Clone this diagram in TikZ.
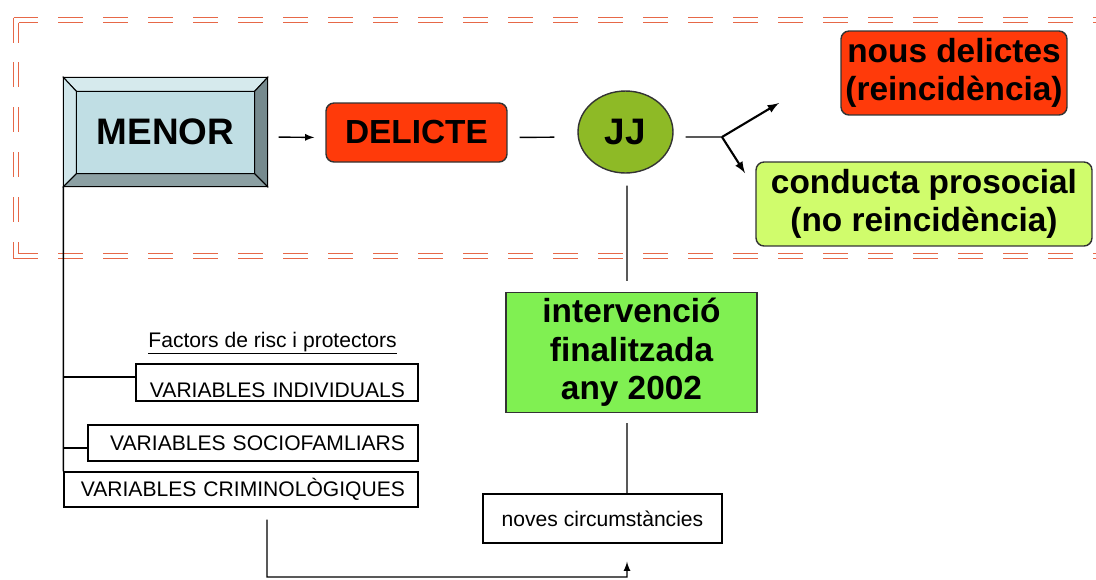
\documentclass[tikz,border=0pt]{standalone}
\usepackage{fontspec}
\setmainfont{Liberation Sans}
\usepackage{xcolor}
\usetikzlibrary{shapes.geometric}

\definecolor{framered}{RGB}{230,104,72}
\definecolor{menorface}{RGB}{192,222,228}
\definecolor{bevtop}{RGB}{214,234,237}
\definecolor{bevleft}{RGB}{208,230,234}
\definecolor{bevright}{RGB}{118,138,142}
\definecolor{bevbottom}{RGB}{140,160,163}
\definecolor{delred}{RGB}{255,58,10}
\definecolor{jjgreen}{RGB}{142,186,38}
\definecolor{prosgreen}{RGB}{208,252,108}
\definecolor{intgreen}{RGB}{128,240,82}

\tikzset{
  frame/.style={draw=framered, line width=1pt, dash pattern=on 0.5cm off 0.4cm},
  framein/.style={frame, dash phase=0.1cm},
  mainbox/.style={draw=black!80, line width=0.8pt, font=\fontsize{19}{22}\selectfont\bfseries, align=center, inner sep=0pt},
  redbox/.style={mainbox, fill=delred, rounded corners=0.16cm},
  varbox/.style={draw, line width=0.8pt, font=\fontsize{12}{14}\selectfont, align=right, inner xsep=0.26cm, inner ysep=0pt},
  link/.style={line width=0.8pt},
  fork/.style={line width=1.2pt, ->},
}

\begin{document}
\begin{tikzpicture}[x=0.02cm, y=-0.02cm, >=latex]
\useasboundingbox (0,0) rectangle (1096,579);

% dashed double frame
\draw[frame] (13.5,17.5) -- (1096,17.5);
\draw[framein] (18.5,22.5) -- (1096,22.5);
\draw[frame] (13.5,17.5) -- (13.5,258.5);
\draw[framein] (18.5,22.5) -- (18.5,253.5);
\draw[frame] (13.5,258.5) -- (1096,258.5);
\draw[framein] (18.5,253.5) -- (1096,253.5);

\node[draw, line width=0.8pt, fill=menorface, minimum width=4.06cm, minimum height=2.16cm, font=\fontsize{21}{24}\selectfont\bfseries] (menor) at (165.5,132) {MENOR};
\coordinate (m1) at ([shift={(0.26cm,-0.28cm)}]menor.north west);
\coordinate (m2) at ([shift={(-0.26cm,-0.28cm)}]menor.north east);
\coordinate (m3) at ([shift={(-0.26cm,0.26cm)}]menor.south east);
\coordinate (m4) at ([shift={(0.26cm,0.26cm)}]menor.south west);
\filldraw[fill=bevtop, line width=0.6pt] (menor.north west) -- (menor.north east) -- (m2) -- (m1) -- cycle;
\filldraw[fill=bevleft, line width=0.6pt] (menor.north west) -- (m1) -- (m4) -- (menor.south west) -- cycle;
\filldraw[fill=bevright, line width=0.6pt] (menor.north east) -- (menor.south east) -- (m3) -- (m2) -- cycle;
\filldraw[fill=bevbottom, line width=0.6pt] (menor.south west) -- (m4) -- (m3) -- (menor.south east) -- cycle;

\node[redbox, minimum width=3.62cm, minimum height=1.18cm] (delicte) at (416.5,132.5) {DELICTE};
\node[ellipse, draw=black!80, line width=0.8pt, fill=jjgreen, minimum width=1.9cm, minimum height=1.64cm, font=\fontsize{21}{24}\selectfont\bfseries] (jj) at (625.5,132) {JJ};
\node[redbox, minimum width=4.52cm, minimum height=1.68cm] (reinc) at (954,73) {nous delictes\\(reincidència)};
\node[mainbox, fill=prosgreen, rounded corners=0.16cm, minimum width=6.72cm, minimum height=1.68cm] (prosocial) at (924,204) {conducta prosocial\\(no reincidència)};
\node[mainbox, fill=intgreen, minimum width=5.02cm, minimum height=2.4cm] (interv) at (631.5,352.5) {intervenció\\finalitzada\\any 2002};
\node[draw, line width=0.8pt, minimum width=4.78cm, minimum height=0.98cm, font=\fontsize{12}{14}\selectfont] (noves) at (602.5,518.5) {noves circumstàncies};

\node[font=\fontsize{12}{14}\selectfont, anchor=base east] (factors) at (403,347) {\underline{Factors de risc i protectors}};
\node[varbox, minimum width=5.64cm, text width=5.12cm, minimum height=0.74cm] (indiv) at (277,382.5) {\raisebox{-0.15cm}[\height][\depth]{VARIABLES INDIVIDUALS}};
\node[varbox, minimum width=6.6cm, text width=6.08cm, minimum height=0.72cm] (socio) at (253,443) {VARIABLES SOCIOFAMLIARS};
\node[varbox, minimum width=7.08cm, text width=6.56cm, minimum height=0.70cm] (crim) at (241,489.5) {VARIABLES CRIMINOLÒGIQUES};

% connectors
\draw[link,->,shorten <=0.22cm,shorten >=0.22cm] ([yshift=-0.1cm]menor.east) -- ([yshift=-0.1cm]delicte.west);
\draw[link,shorten <=0.24cm,shorten >=0.46cm] ([yshift=-0.1cm]delicte.east) -- ([yshift=-0.1cm]jj.west);
\coordinate (split) at (722,137);
\coordinate (toreinc) at (779,103);
\coordinate (tonoreinc) at (745,173);
\draw[link,shorten <=0.24cm] ([yshift=-0.1cm]jj.east) -- (split);
\draw[fork] (split) -- (toreinc);
\draw[fork] (split) -- (tonoreinc);
\draw[link,shorten <=0.24cm,shorten >=0.22cm] ([xshift=0.03cm]jj.south) -- ([xshift=-0.09cm]interv.north);
\draw[link,shorten <=0.2cm] ([xshift=-0.09cm]interv.south) -- ([xshift=0.49cm]noves.north);
\coordinate (turn) at (627,577);
\draw[link,->,shorten >=0.36cm] ([xshift=0.52cm,yshift=-0.24cm]crim.south) |- (turn) -- ([xshift=0.49cm]noves.south);

\draw[link] (menor.south west) -- (crim.north west);
\draw[link] (menor.south west) |- ([yshift=0.11cm]indiv.west);
\draw[link] (menor.south west) |- ([yshift=-0.1cm]socio.west);

\end{tikzpicture}
\end{document}
